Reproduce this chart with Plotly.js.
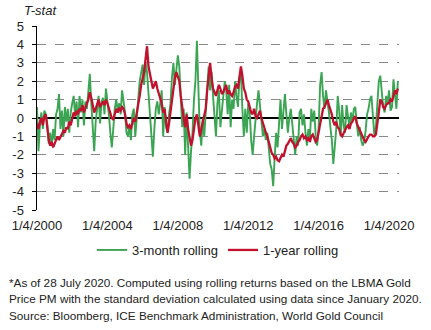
<!DOCTYPE html>
<html>
<head>
<meta charset="utf-8">
<script src="https://cdn.plot.ly/plotly-3.0.1.min.js"></script>
<style>html,body{margin:0;padding:0;background:#fff;}#chart{width:431px;height:330px;}</style>
</head>
<body>
<div id="chart"></div>
<script>
// Monthly readings, Jan 2000 .. Jul 2020
var startDate = '2000-01-04';
var monthMs = 2629746000;
var threeMonth = [
  0.6, -1.8, -0.4, 0.3, -0.6, 0.4, 0.2, -0.3, -1.4, -0.8, -1.5, -0.6,
  -1.2, 0.2, 0.5, 1.3, -0.6, 0.4, -1.0, 0.6, -0.2, 0.5, -0.8, 0.3,
  0.8, 1.2, 0.1, 0.9, -0.5, 1.2, 0.3, 1.0, -0.4, 0.9, 0.5, 1.6,
  2.4, 0.8, -0.5, -1.8, -0.2, 0.6, 1.2, -0.3, 0.9, 1.1, 0.2, 1.6,
  1.0, 0.2, -0.8, -1.6, -0.6, 0.5, 1.0, 0.4, 0.8, 0.2, 1.5, 0.9,
  0.3, -0.8, -1.0, -0.4, -1.2, 0.2, 0.5, -1.0, 0.3, 1.0, 2.0, 2.6,
  2.9, 1.8, 3.0, 2.5, 1.2, 0.3, -0.8, -2.1, -0.6, 0.5, 0.9, 0.2,
  0.8, 1.5, -1.0, 0.6, -0.5, -0.8, 0.2, 0.8, 2.2, 3.0, 1.8, 2.6,
  3.4, 2.8, 1.0, -0.5, 0.5, -2.0, 0.3, -1.5, -3.3, -1.8, -0.8, 1.0,
  2.0, 4.2, 1.0, -0.8, -1.5, 0.0, -1.0, 0.5, 2.0, 2.8, 1.5, 2.5,
  1.2, 0.0, -1.0, 0.8, 1.5, -0.5, 0.6, 1.2, 2.0, 1.5, 0.2, 1.8,
  -0.5, 1.0, 0.5, 2.0, 1.2, 0.6, 2.2, 2.5, 0.5, -1.0, 0.5, -0.8,
  0.8, 0.3, -1.2, -2.0, -1.0, 0.2, 0.8, 1.5, 0.6, -0.5, -1.0, -0.6,
  -1.2, -0.8, -1.5, -2.5, -2.8, -3.7, -2.2, -0.8, -1.6, -0.5, 1.0, -0.6,
  0.5, 1.3, 0.2, -0.8, 0.0, 0.5, -0.3, -1.2, -2.0, -1.0, -1.5, 0.3,
  0.5, -0.4, 0.2, -0.8, -1.5, -0.6, -1.2, 0.5, -0.2, 0.4, -1.0, -1.5,
  -0.5, 1.8, 2.5, 1.2, 0.5, 1.5, 1.0, 0.3, -0.5, -1.2, -2.5, -1.5,
  -0.6, 1.2, 0.4, -1.0, 0.7, -0.4, -0.8, 0.7, 0.2, -0.5, 0.3, -0.2,
  0.5, 0.6, -0.3, -1.0, -0.5, -1.2, -1.5, -1.3, -0.7, 0.2, 0.5, 1.0,
  1.2, 0.3, -1.0, -0.5, 0.5, 2.0, 2.3, 1.5, 0.6, 0.3, 1.2, 0.8,
  1.5, 0.4, 0.6, 2.1, 1.2, 0.5, 2.0
];
var oneYear = [
  -0.3, -0.6, -0.2, 0.0, -0.4, 0.1, 0.2, -0.5, -1.2, -1.5, -1.3, -1.6,
  -1.4, -1.2, -1.0, -1.2, -1.0, -0.9, -0.7, -0.8, -0.5, -0.6, -0.2, -0.4,
  0.0, 0.3, 0.1, 0.4, 0.2, 0.5, 0.4, 0.7, 0.3, 0.6, 0.8, 1.0,
  1.4, 1.1, 0.6, 0.3, 0.5, 0.8, 1.0, 0.6, 0.8, 0.9, 0.7, 1.0,
  0.8, 0.5, 0.2, 0.0, -0.1, 0.3, 0.5, 0.3, 0.5, 0.4, 0.6, 0.5,
  0.2, -0.3, -0.5, -0.4, -0.6, -0.3, 0.0, -0.2, 0.2, 0.6, 1.2, 1.8,
  2.1, 2.5, 3.2, 3.9, 2.8, 2.3, 2.0, 1.6, 1.8, 2.0, 1.6, 1.3,
  1.0, 0.8, 0.3, 0.5, -0.2, -0.8, -0.3, 0.3, 1.0, 1.8, 2.2, 2.5,
  2.2, 2.0, 1.2, 0.5, 0.0, -0.5, 0.2, -0.6, -1.0, -1.5, -1.2, -0.5,
  0.0, 0.2, -0.3, -1.0, -0.6, -0.2, 0.0, 0.5, 1.5, 2.2, 3.0, 2.2,
  1.6, 1.4, 1.2, 1.5, 1.8, 1.6, 1.3, 1.4, 1.6, 1.8, 1.3, 1.5,
  1.3, 1.2, 1.4, 1.7, 1.8, 1.6, 2.2, 2.8, 2.3, 1.6, 1.4, 1.0,
  0.9, 0.6, 0.3, 0.2, 0.5, 0.1, 0.0, 0.2, 0.4, 0.0, -0.3, -0.5,
  -0.8, -1.0, -1.3, -1.6, -1.9, -2.0, -2.2, -2.1, -2.3, -2.35, -2.2, -2.0,
  -2.1, -1.8, -1.5, -1.4, -1.2, -1.1, -1.3, -1.4, -1.6, -1.5, -1.3, -1.2,
  -1.0, -0.9, -1.1, -1.0, -1.2, -1.1, -1.3, -1.0, -0.9, -1.1, -1.3, -1.2,
  -0.8, -0.2, 0.0, 0.5, 0.6, 0.8, 1.0, 0.7, 0.5, 0.2, -0.2, -0.4,
  -0.2, -0.5, -0.6, -0.9, -1.0, -0.8, -0.6, -0.5, -0.4, -0.6, -0.3, -0.2,
  0.0, 0.1, -0.3, -0.5, -0.7, -0.9, -1.1, -1.2, -1.3, -1.1, -1.0, -0.9,
  -0.9, -1.0, -1.0, -0.9, -0.4, 0.3, 1.0, 0.9, 0.6, 0.5, 0.7, 0.8,
  0.8, 1.0, 0.9, 1.2, 1.5, 1.3, 1.6
];
var tickDates = ['2000-01-04', '2004-01-04', '2008-01-04', '2012-01-04', '2016-01-04', '2020-01-04'];
var tickLabels = ['1/4/2000', '1/4/2004', '1/4/2008', '1/4/2012', '1/4/2016', '1/4/2020'];
var yTicks = [-5, -4, -3, -2, -1, 0, 1, 2, 3, 4, 5];
var yTickLabels = ['-5', '-4', '-3', '-2', '-1', '0', '1', '2', '3', '4', '5'];
var seriesNames = ['3-month rolling', '1-year rolling'];
var footLines = [
  '*As of 28 July 2020. Computed using rolling returns based on the LBMA Gold',
  'Price PM with the standard deviation calculated using data since January 2020.',
  'Source: Bloomberg, ICE Benchmark Administration, World Gold Council'
];

var FONT = 'Liberation Sans, Arial, sans-serif';
var traces = [
  {type: 'scatter', mode: 'lines', name: seriesNames[0], x0: startDate, dx: monthMs, y: threeMonth,
   line: {color: '#3ba553', width: 1.9}},
  {type: 'scatter', mode: 'lines', name: seriesNames[1], x0: startDate, dx: monthMs, y: oneYear,
   line: {color: '#c0122f', width: 2.3}}
];
var W = 431, H = 330, ml = 37, mr = 32, mt = 26, mb = 120;
var pw = W - ml - mr, ph = H - mt - mb;
function px(x) { return (x - ml) / pw; }
function py(y) { return (H - mb - y) / ph; }
var ann = [{text: '<i>T-stat</i>', xref: 'paper', yref: 'paper', x: px(22), y: py(10), xanchor: 'left', yanchor: 'middle',
            showarrow: false, font: {family: FONT, size: 13, color: '#222'}}];
var fy = [282, 298, 315];
for (var i = 0; i < footLines.length; i++) {
  ann.push({text: footLines[i], xref: 'paper', yref: 'paper', x: px(7), y: py(fy[i]), xanchor: 'left', yanchor: 'middle',
            showarrow: false, font: {family: FONT, size: 11.75, color: '#222'}});
}
var layout = {
  width: W, height: H,
  margin: {l: ml, r: mr, t: mt, b: mb},
  paper_bgcolor: '#fff', plot_bgcolor: '#fff',
  font: {family: FONT, size: 13, color: '#222'},
  showlegend: true,
  legend: {orientation: 'h', x: 0.5, xanchor: 'center', y: py(250), yanchor: 'middle', font: {family: FONT, size: 13, color: '#222'}},
  xaxis: {type: 'date', range: ['2000-01-04', '2020-07-28'], tickvals: tickDates, ticktext: tickLabels,
          showgrid: false, showline: false, zeroline: false, ticks: '', ticklabelstandoff: 6,
          tickfont: {family: FONT, size: 13, color: '#222'}},
  yaxis: {range: [-5, 5], tickvals: yTicks, ticktext: yTickLabels, showgrid: true, gridcolor: '#8a8a8a', griddash: 'dash', gridwidth: 1,
          zeroline: true, zerolinecolor: '#000', zerolinewidth: 1.2, showline: true, linecolor: '#000', linewidth: 1.5,
          ticks: 'outside', ticklen: 4, tickcolor: '#000', ticklabelstandoff: 5,
          tickfont: {family: FONT, size: 13, color: '#222'}},
  annotations: ann
};
Plotly.newPlot('chart', traces, layout, {displayModeBar: false, staticPlot: true});
</script>
</body>
</html>
